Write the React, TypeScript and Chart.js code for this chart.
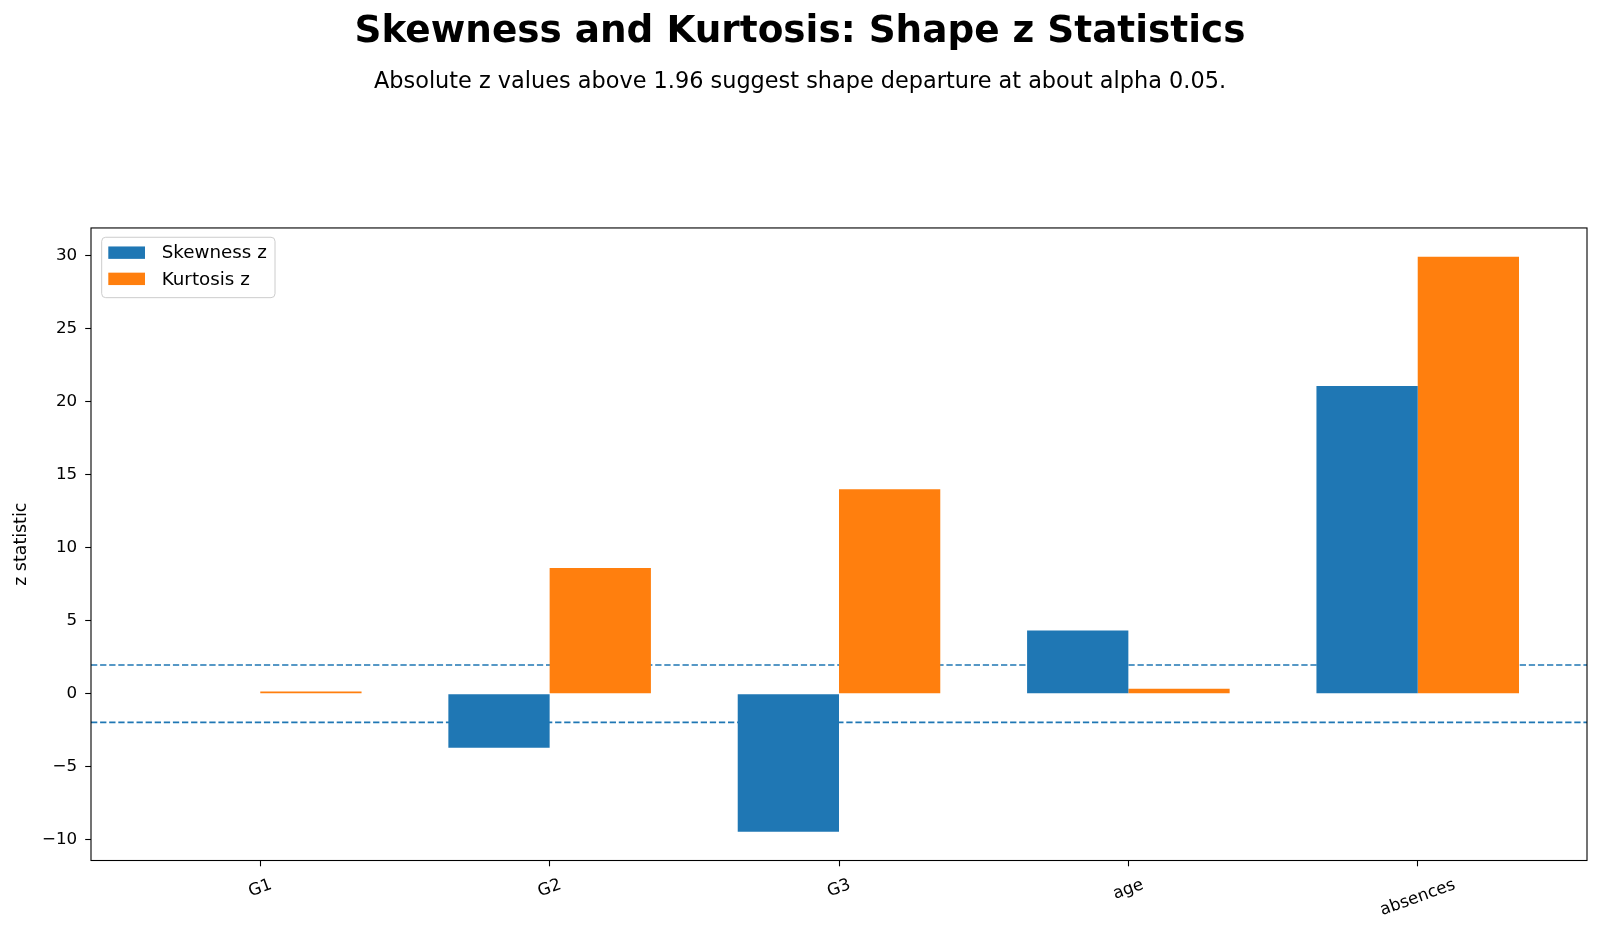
import React, { useEffect, useRef } from "react";
import { Chart, registerables } from "chart.js";

Chart.register(...registerables);

// Variables tested for shape departure
const categories = ["G1", "G2", "G3", "age", "absences"];
// z statistics per variable
const skewnessZ = [0.0, -3.7, -9.45, 4.32, 21.05];
const kurtosisZ = [0.14, 8.6, 13.99, 0.34, 29.9];
// two-sided critical value at alpha 0.05
const criticalZ = 1.96;
// y axis tick values
const yTicks = [-10, -5, 0, 5, 10, 15, 20, 25, 30];

const FONT = "'DejaVu Sans', 'Liberation Sans', sans-serif";
const BLUE = "#1f77b4";
const ORANGE = "#ff7f0e";
const BAR_WIDTH = 0.35;

// matplotlib-like 5% margins around the data
const allVals = [...skewnessZ, ...kurtosisZ, 0];
const dMin = Math.min(...allVals);
const dMax = Math.max(...allVals);
const yMin = dMin - 0.05 * (dMax - dMin);
const yMax = dMax + 0.05 * (dMax - dMin);
const xLo = -BAR_WIDTH;
const xHi = categories.length - 1 + BAR_WIDTH;
const xMin = xLo - 0.05 * (xHi - xLo);
const xMax = xHi + 0.05 * (xHi - xLo);

const minusFmt = (v: number) => (v < 0 ? "\u2212" + Math.abs(v) : String(v));

// dashed reference lines at +/- critical z, drawn beneath the bars
const refLinesPlugin = {
  id: "refLines",
  beforeDatasetsDraw(chart: any) {
    const { ctx, chartArea: a, scales } = chart;
    ctx.save();
    ctx.beginPath();
    ctx.rect(a.left, a.top, a.right - a.left, a.bottom - a.top);
    ctx.clip();
    ctx.strokeStyle = BLUE;
    ctx.lineWidth = 1.7;
    ctx.setLineDash([6.3, 2.8]);
    for (const v of [criticalZ, -criticalZ]) {
      const py = scales.y.getPixelForValue(v);
      ctx.beginPath();
      ctx.moveTo(a.left, py);
      ctx.lineTo(a.right, py);
      ctx.stroke();
    }
    ctx.restore();
  },
};

// axes frame, rotated category labels and the legend box
const decorPlugin = {
  id: "decor",
  afterDraw(chart: any) {
    const { ctx, chartArea: a, scales } = chart;
    ctx.save();

    // frame
    ctx.strokeStyle = "#000";
    ctx.lineWidth = 1.1;
    ctx.setLineDash([]);
    ctx.strokeRect(a.left, a.top, a.right - a.left, a.bottom - a.top);

    // rotated category labels, centred under each tick
    const fs = 16.7;
    const ang = (20 * Math.PI) / 180;
    ctx.font = `${fs}px ${FONT}`;
    ctx.fillStyle = "#000";
    ctx.textAlign = "center";
    ctx.textBaseline = "middle";
    categories.forEach((label, i) => {
      const px = scales.x.getPixelForValue(i);
      const w = ctx.measureText(label).width;
      const h = w * Math.sin(ang) + fs * Math.cos(ang);
      const cy = a.bottom + 16 + h / 2;
      ctx.save();
      ctx.translate(px, cy);
      ctx.rotate(-ang);
      ctx.fillText(label, 0, 0);
      ctx.restore();
    });

    // legend
    const lx = a.left + 10.7;
    const ly = a.top + 9.3;
    const lw = 173.3;
    const lh = 60.4;
    ctx.beginPath();
    ctx.roundRect(lx, ly, lw, lh, 4);
    ctx.fillStyle = "rgba(255,255,255,0.8)";
    ctx.fill();
    ctx.strokeStyle = "#cccccc";
    ctx.lineWidth = 1;
    ctx.stroke();
    const lfs = 18.3;
    ctx.font = `${lfs}px ${FONT}`;
    ctx.textAlign = "left";
    ctx.textBaseline = "middle";
    chart.data.datasets.forEach((ds: any, i: number) => {
      const cy = ly + 15.4 + i * 26.2;
      ctx.fillStyle = ds.backgroundColor;
      ctx.fillRect(lx + 6.6, cy - 6.2, 36.7, 12.4);
      ctx.fillStyle = "#000";
      ctx.fillText(ds.label, lx + 60, cy + 1);
    });

    ctx.restore();
  },
};

export default function App() {
  const canvasRef = useRef<HTMLCanvasElement | null>(null);

  useEffect(() => {
    if (!canvasRef.current) return;
    Chart.defaults.font.family = FONT;
    Chart.defaults.color = "#000";

    const chart = new Chart(canvasRef.current, {
      type: "bar",
      data: {
        datasets: [
          {
            label: "Skewness z",
            data: skewnessZ.map((v, i) => ({ x: i, y: v })),
            backgroundColor: BLUE,
            borderWidth: 0,
            categoryPercentage: 0.7,
            barPercentage: 1.0,
          },
          {
            label: "Kurtosis z",
            data: kurtosisZ.map((v, i) => ({ x: i, y: v })),
            backgroundColor: ORANGE,
            borderWidth: 0,
            categoryPercentage: 0.7,
            barPercentage: 1.0,
          },
        ],
      },
      options: {
        responsive: false,
        animation: false,
        layout: { padding: 0 },
        scales: {
          x: {
            type: "linear",
            min: xMin,
            max: xMax,
            offset: false,
            afterBuildTicks: (s: any) => {
              s.ticks = categories.map((_, i) => ({ value: i }));
            },
            afterFit: (s: any) => {
              s.height = 73.5;
            },
            ticks: { display: false },
            grid: {
              display: true,
              offset: false,
              drawOnChartArea: false,
              drawTicks: true,
              tickLength: 5.8,
              tickColor: "#000",
              tickWidth: 1.1,
            },
            border: { display: false },
          },
          y: {
            min: yMin,
            max: yMax,
            afterBuildTicks: (s: any) => {
              s.ticks = yTicks.map((v) => ({ value: v }));
            },
            afterFit: (s: any) => {
              s.width = 91;
            },
            ticks: {
              font: { family: FONT, size: 16.7 },
              color: "#000",
              padding: 8,
              callback: (v: any) => minusFmt(Number(v)),
            },
            grid: {
              display: true,
              drawOnChartArea: false,
              drawTicks: true,
              tickLength: 5.8,
              tickColor: "#000",
              tickWidth: 1.1,
            },
            border: { display: false },
            title: {
              display: true,
              text: "z statistic",
              font: { family: FONT, size: 17.4 },
              color: "#000",
              padding: { top: 11, bottom: 0 },
            },
          },
          // blank right-hand margin so the titles stay centred on the canvas
          yRight: {
            type: "linear",
            position: "right",
            afterFit: (s: any) => {
              s.width = 13;
            },
            ticks: { display: false },
            grid: { display: false },
            border: { display: false },
          },
        },
        plugins: {
          legend: { display: false },
          tooltip: { enabled: false },
          title: {
            display: true,
            text: "Skewness and Kurtosis: Shape z Statistics",
            font: { family: FONT, size: 37.4, weight: "bold", lineHeight: 1.2 },
            color: "#000",
            padding: { top: 9.8, bottom: 0 },
          },
          subtitle: {
            display: true,
            text: "Absolute z values above 1.96 suggest shape departure at about alpha 0.05.",
            font: { family: FONT, size: 22.4, lineHeight: 1.2 },
            color: "#000",
            padding: { top: 13.6, bottom: 132.8 },
          },
        },
      },
      plugins: [refLinesPlugin, decorPlugin],
    } as any);

    return () => chart.destroy();
  }, []);

  return (
    <div style={{ position: "absolute", left: 0, top: 0, width: 1600, height: 934, background: "#fff" }}>
      <canvas ref={canvasRef} width={1600} height={934} style={{ display: "block" }} />
    </div>
  );
}
